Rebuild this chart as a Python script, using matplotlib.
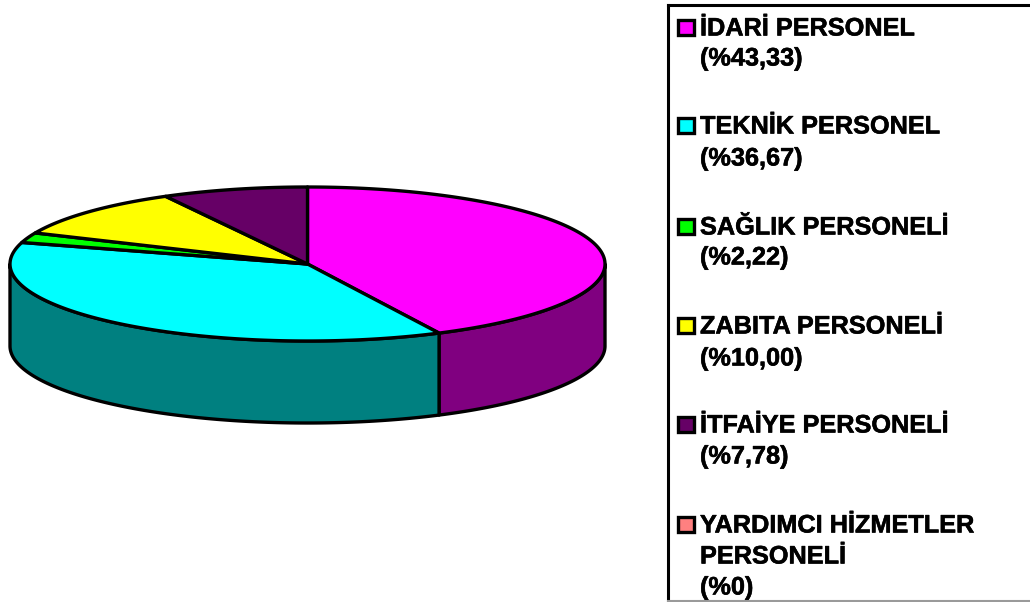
#!/usr/bin/env python

import numpy as np
import matplotlib
matplotlib.use('Agg')
import matplotlib.pyplot as plt
import matplotlib.patheffects as pe
from matplotlib.patches import Polygon, Rectangle

plt.rcParams['font.family'] = ['Liberation Sans', 'DejaVu Sans']

# slice shares (%)
names = ['İDARİ PERSONEL', 'TEKNİK PERSONEL', 'SAĞLIK PERSONELİ',
         'ZABITA PERSONELİ', 'İTFAİYE PERSONELİ', 'YARDIMCI HİZMETLER\nPERSONELİ']
shares = [43.33, 36.67, 2.22, 10.00, 7.78, 0.0]
share_labels = ['(%43,33)', '(%36,67)', '(%2,22)', '(%10,00)', '(%7,78)', '(%0)']
top_colors = ['#ff00ff', '#00ffff', '#00ff00', '#ffff00', '#660066', '#ff8080']
side_colors = ['#800080', '#008080', '#008000', '#808000', '#330033', '#804040']
legend_y = [27, 125, 226, 325, 424, 524]
line_gap = [30, 32, 30, 32, 31, 31]

cx, cy = 307.5, 264
rx, ry = 297.5, 77
depth = 82

fig = plt.figure(figsize=(10.30, 6.02), dpi=100, facecolor='w')
ax = fig.add_axes([0, 0, 1, 1])
ax.set_xlim(0, 1030)
ax.set_ylim(602, 0)
ax.axis('off')


def warp(deg):
    # rough perspective, the near side of the pie looks wider
    t = np.radians(deg)
    f = np.minimum(1, (1 - np.cos(t)) / 0.6)
    return deg + 3 * np.sin(2 * t) * f


def rim(t0, t1, n=200):
    # points on the top ellipse, angle clockwise from 12 o'clock
    t = np.radians(np.linspace(t0, t1, n))
    return np.column_stack((cx + rx * np.sin(t), cy - ry * np.cos(t)))


edges = warp(np.concatenate(([0], np.cumsum(shares))) * 3.6)

# front wall, only the part between 90 and 270 deg shows
for i in range(len(shares)):
    t0, t1 = max(edges[i], 90), min(edges[i + 1], 270)
    if t1 <= t0:
        continue
    up = rim(t0, t1)
    down = up[::-1] + [0, depth]
    ax.add_patch(Polygon(np.vstack((up, down)), closed=True, fc=side_colors[i],
                         ec='k', lw=2.4, joinstyle='round'))

# top face
for i in range(len(shares)):
    if shares[i] == 0:
        continue
    pts = np.vstack(([[cx, cy]], rim(edges[i], edges[i + 1])))
    ax.add_patch(Polygon(pts, closed=True, fc=top_colors[i], ec='k', lw=2.4,
                         joinstyle='round'))

# legend box, no right edge inside the picture
ax.plot([668, 668], [602, 5], color='k', lw=2.2, solid_capstyle='projecting')
ax.plot([668, 1030], [5, 5], color='k', lw=2.2, solid_capstyle='projecting')
ax.plot([668, 1030], [600.5, 600.5], color='#9a9a9a', lw=1.5)

for i in range(len(names)):
    y = legend_y[i]
    ax.add_patch(Rectangle((678, y - 7.5), 15.5, 15, fc=top_colors[i], ec='k', lw=2.4))
    lines = names[i].split('\n') + [share_labels[i]]
    for j, s in enumerate(lines):
        ax.text(700, y - 1 + j * line_gap[i], s, fontsize=18.2, fontweight='bold',
                color='k', ha='left', va='center_baseline',
                path_effects=[pe.withStroke(linewidth=0.4, foreground='k')])

fig.savefig('out.png', dpi=100)
